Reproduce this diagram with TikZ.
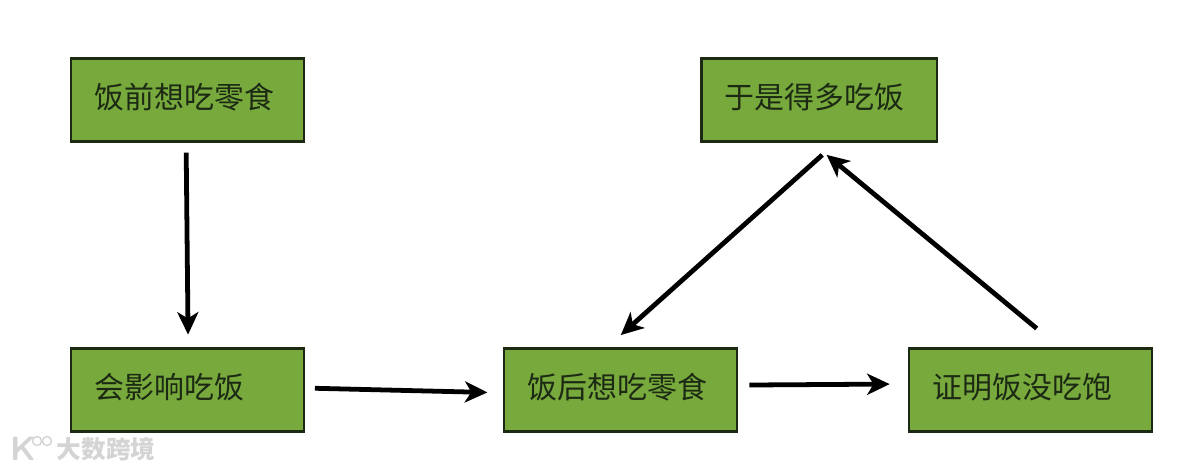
\documentclass[tikz,border=0pt]{standalone}
\usepackage{fontspec}
\newfontfamily\cjk{Noto Sans CJK SC}
\definecolor{boxgreen}{HTML}{77A93C}
\definecolor{boxline}{HTML}{1C2A14}
\definecolor{wmgray}{HTML}{D4D4D4}
\tikzset{
  stepbox/.style={draw=boxline,fill=boxgreen,line width=1.8pt,text=boxline,
    minimum height=59pt,inner xsep=16.5pt,inner ysep=0pt,align=left,
    text height=19pt,text depth=6.4pt,font=\fontsize{21.3}{21.3}\cjk},
  arrow/.style={line width=3.4pt,-{Stealth[length=16pt,width=15pt,inset=4.5pt]}},
  mark text/.style={text=wmgray,font=\fontsize{17.5}{17.5}\cjk\bfseries,inner sep=0pt},
}
\usetikzlibrary{arrows.meta}
\begin{document}
\begin{tikzpicture}[x=0.025cm,y=-0.025cm]
\useasboundingbox (0,0) rectangle (1200,470);
\node[stepbox,text width=132.5pt] (before) at (187.5,100) {饭前想吃零食};
\node[stepbox,text width=132.5pt] (affect) at (187.5,390) {会影响吃饭};
\node[stepbox,text width=132.5pt] (after) at (620.5,390) {饭后想吃零食};
\node[stepbox,text width=139.5pt] (hungry) at (1030.5,390) {证明饭没吃饱};
\node[stepbox,text width=134.5pt] (more) at (819,100) {于是得多吃饭};
% connectors
\draw[arrow,shorten <=7pt,shorten >=9pt] ([xshift=-1pt]before.south) -- ([xshift=.5pt]affect.north);
\draw[arrow,shorten <=7pt,shorten >=11pt] ([yshift=1.4pt]affect.east) -- ([yshift=-2pt]after.west);
\draw[arrow,shorten <=8pt,shorten >=13pt] ([yshift=3.5pt]after.east) -- ([yshift=4.3pt]hungry.west);
\draw[arrow,shorten <=21pt,shorten >=13.5pt] ([xshift=20.6pt]hungry.north) -- ([xshift=-5pt]more.south);
\draw[arrow,shorten <=13pt,shorten >=13pt] ([xshift=12pt]more.south) -- ([xshift=-9.5pt]after.north);
% watermark
\node[mark text] (marktext) at (106,449) {大数跨境};
\node[text=wmgray,font=\fontsize{24}{24}\sffamily\bfseries,inner sep=0pt] (markk) at (23,449) {K};
\draw[wmgray,line width=1pt] (37,441) circle (4.5) (47,441) circle (4.5);
\end{tikzpicture}
\end{document}
